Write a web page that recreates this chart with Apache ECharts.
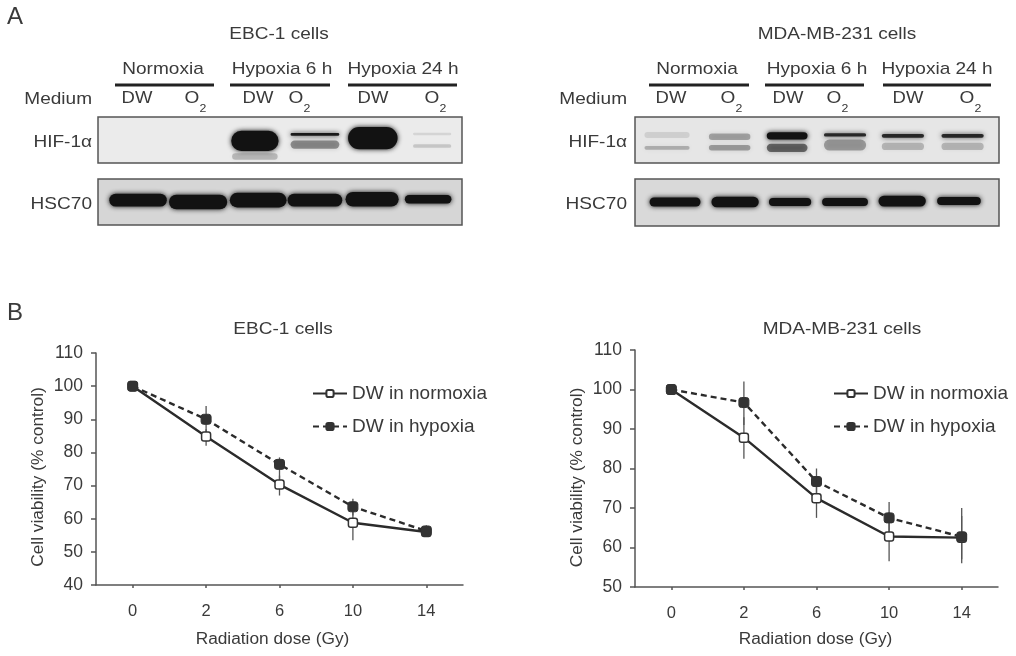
<!DOCTYPE html>
<html><head><meta charset="utf-8">
<style>html,body{margin:0;background:#fff}#c{width:1016px;height:656px;filter:blur(0.6px)}</style>
<script src="https://cdn.jsdelivr.net/npm/echarts@6/dist/echarts.min.js"></script>
</head><body><div id="c"></div>
<script>
// ---------- Panel B values ----------
const doses = ['0','2','6','10','14'];
const ebcNormoxia = [100,84.8,70.3,58.8,56];
const ebcNormoxiaLow = [99,82,67,53.5,54.5];
const ebcNormoxiaHigh = [101,87,73,64,57];
const ebcHypoxia = [100,90,76.4,63.6,56.3];
const ebcHypoxiaLow = [99,86,71,61,54.5];
const ebcHypoxiaHigh = [101,94,78.5,66,58];
const mdaNormoxia = [100,87.8,72.5,62.8,62.5];
const mdaNormoxiaLow = [99,82.5,67.5,56.5,57];
const mdaNormoxiaHigh = [101,93,77,69,68];
const mdaHypoxia = [100,96.7,76.7,67.5,62.7];
const mdaHypoxiaLow = [99,91,73,63.5,56];
const mdaHypoxiaHigh = [101,102,80,71.5,70];
// ---------- Panel A band estimates: [lane centre %, depth %, width %, thickness %, darkness] ----------
const ebcHif = [[43.1,52,13,44,1],[43.1,86,12.5,14,.22],[59.6,38,13.4,6,.95],[59.6,60,13.4,18,.4],[75.5,46,13.6,48,1],[91.8,37,10.5,5,.1],[91.8,63,10.5,8,.16]];
const ebcHsc = [[11,46,15.8,28,1],[27.5,50,16,32,1],[44,46,15.6,32,1],[59.6,46,15,28,1],[75.3,44,14.6,32,1],[90.7,44,12.8,18,1]];
const mdaHif = [[8.8,39,12.4,13,.1],[8.8,67,12.4,8,.25],[26,43,11.4,14,.3],[26,67,11.4,12,.33],[41.8,41,11.2,16,1],[41.8,67,11.2,18,.55],[57.7,39,11.6,7,.85],[57.7,61,11.6,24,.33],[73.6,41,11.6,8,.85],[73.6,64,11.6,16,.22],[90,41,11.6,8,.85],[90,64,11.6,16,.22]];
const mdaHsc = [[11,49,14,19,1],[27.5,49,13,22,1],[42.6,49,11.6,17,1],[57.7,49,12.6,17,1],[73.4,47,13,23,1],[89,47,12,17,1]];

const ink = '#3a3a3a', font = '"Liberation Sans", Arial, sans-serif';
const grids = [], xAxes = [], yAxes = [], series = [], legends = [], graphics = [];

function blot(bands, left, top, height, bg){
  const i = grids.length;
  grids.push({left, top, width:364, height, show:true, backgroundColor:bg, borderColor:'#555', borderWidth:1.5});
  xAxes.push({type:'value', gridIndex:i, min:0, max:100, show:false});
  yAxes.push({type:'value', gridIndex:i, min:0, max:100, inverse:true, show:false});
  series.push({type:'custom', xAxisIndex:i, yAxisIndex:i, silent:true, data:bands, clip:true,
    encode:{x:0,y:1},
    renderItem(p, api){
      const c = api.coord([api.value(0), api.value(1)]);
      const s = api.size([api.value(2), api.value(3)]);
      const col = 'rgba(18,18,18,' + api.value(4) + ')';
      return {type:'rect', shape:{x:c[0]-s[0]/2, y:c[1]-s[1]/2, width:s[0], height:s[1], r:Math.min(s[0],s[1])/2},
        style:{fill:col, shadowBlur:5, shadowColor:col}};
    }});
}
blot(ebcHif,98,117,46,'#ebebeb');
blot(ebcHsc,98,179,46,'#d6d6d6');
blot(mdaHif,635,117,46,'#e6e6e6');
blot(mdaHsc,635,179,47,'#d9d9d9');

function errorBars(low, high, idx, z){
  return {type:'custom', xAxisIndex:idx, yAxisIndex:idx, silent:true, z,
    data:doses.map((d,k)=>[k,low[k],high[k]]), encode:{x:0,y:[1,2]},
    renderItem(p, api){
      const a = api.coord([api.value(0), api.value(1)]), b = api.coord([api.value(0), api.value(2)]);
      return {type:'line', shape:{x1:a[0],y1:a[1],x2:b[0],y2:b[1]}, style:{stroke:'#555', lineWidth:1.3}};
    }};
}
function chart(opt){
  const i = grids.length;
  grids.push({left:opt.left, top:opt.top, width:opt.width, height:opt.height});
  xAxes.push({type:'category', gridIndex:i, data:doses, boundaryGap:true,
    name:'Radiation dose (Gy)', nameLocation:'middle', nameGap:opt.xGap,
    nameTextStyle:{color:ink,fontSize:17.3,fontFamily:font,padding:[0,opt.xShift,0,0]},
    axisLine:{lineStyle:{color:'#555',width:1.5}},
    axisTick:{show:true,alignWithLabel:true,length:3,lineStyle:{color:'#555',width:1.5}},
    axisLabel:{color:ink,fontSize:16.5,fontFamily:font,margin:18}, splitLine:{show:false}});
  yAxes.push({type:'value', gridIndex:i, min:opt.min, max:110, interval:10,
    name:'Cell viability (% control)', nameLocation:'middle', nameGap:opt.yGap, nameRotate:90,
    nameTextStyle:{color:ink,fontSize:17.3,fontFamily:font,padding:[0,opt.yShift,0,0]},
    axisLine:{show:true,lineStyle:{color:'#555',width:1.5}},
    axisTick:{show:true,length:5,lineStyle:{color:'#555',width:1.5}},
    axisLabel:{color:ink,fontSize:17.5,fontFamily:font,margin:13,padding:[6,0,0,0]}, splitLine:{show:false}});
  series.push(errorBars(opt.nLow,opt.nHigh,i,1), errorBars(opt.hLow,opt.hHigh,i,1));
  series.push({type:'line', name:'DW in normoxia', xAxisIndex:i, yAxisIndex:i, data:opt.norm, z:3,
    symbol:'roundRect', symbolSize:9, showSymbol:true,
    lineStyle:{color:'#2b2b2b',width:2.4}, itemStyle:{color:'#fff',borderColor:'#333',borderWidth:1.5}});
  series.push({type:'line', name:'DW in hypoxia', xAxisIndex:i, yAxisIndex:i, data:opt.hyp, z:4,
    symbol:'roundRect', symbolSize:10, showSymbol:true,
    lineStyle:{color:'#2b2b2b',width:2.4,type:[6,4]}, itemStyle:{color:'#333',borderColor:'#333',borderWidth:1}});
  legends.push({orient:'vertical', left:opt.legendLeft, top:opt.legendTop, padding:0, itemWidth:34, itemHeight:9, itemGap:14,
    data:['DW in normoxia','DW in hypoxia'], textStyle:{color:ink,fontSize:19,fontFamily:font},
    selectedMode:false});
}
chart({left:96,top:353,width:367,height:232,min:40,norm:ebcNormoxia,hyp:ebcHypoxia,nLow:ebcNormoxiaLow,nHigh:ebcNormoxiaHigh,hLow:ebcHypoxiaLow,hHigh:ebcHypoxiaHigh,xGap:46,xShift:14,yGap:49,yShift:16,legendLeft:312,legendTop:384});
chart({left:635,top:350,width:363,height:237,min:50,norm:mdaNormoxia,hyp:mdaHypoxia,nLow:mdaNormoxiaLow,nHigh:mdaNormoxiaHigh,hLow:mdaHypoxiaLow,hHigh:mdaHypoxiaHigh,xGap:44,xShift:2,yGap:49,yShift:18,legendLeft:833,legendTop:384});

const stretch = 1.12;
function txt(t,x,y,size,align,sx){
  graphics.push({type:'text',x,y,scaleX:sx||stretch,silent:true,style:{text:t,fill:ink,font:size+'px '+font,textAlign:align||'center',textVerticalAlign:'middle'}});
}
function oxy(x,y){
  txt('O',x-3,y,17);
  txt('2',x+8,y+10,11);
}
function bar(x1,x2,y){
  graphics.push({type:'line',silent:true,shape:{x1,y1:y,x2,y2:y},style:{stroke:'#222',lineWidth:3}});
}
txt('A',15,17,24,'center',1); txt('B',15,313,24,'center',1);
txt('EBC-1 cells',279,34,17);
txt('MDA-MB-231 cells',837,34,17);
txt('EBC-1 cells',283,329,17);
txt('MDA-MB-231 cells',842,329,17);
function header(hs,bars,dw,o2,right){
  ['Normoxia','Hypoxia 6 h','Hypoxia 24 h'].forEach((t,k)=>txt(t,hs[k],69,17));
  bars.forEach(b=>bar(b[0],b[1],85));
  dw.forEach(x=>txt('DW',x,98.5,16.5));
  o2.forEach(x=>oxy(x,98.5));
  txt('Medium',right,99,17,'right');
  txt('HIF-1α',right,142,17,'right');
  txt('HSC70',right,204,17,'right');
}
header([163,282,403],[[115,214],[230,330],[348,457]],[137,258,373],[195,299,435],92);
header([697,817,937],[[649,749],[765,864],[883,991]],[671,788,908],[731,837,970],627);

const chartEl = echarts.init(document.getElementById('c'),null,{renderer:'canvas'});
chartEl.setOption({animation:false,backgroundColor:'#fff',grid:grids,xAxis:xAxes,yAxis:yAxes,series,legend:legends,graphic:{elements:graphics}});
</script></body></html>
